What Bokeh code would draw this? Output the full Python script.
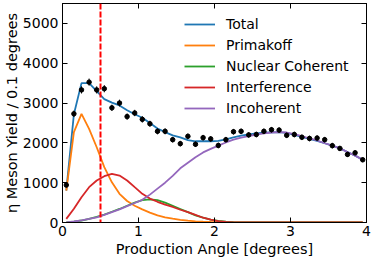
from bokeh.plotting import figure
from bokeh.models import Range1d, LinearAxis, Span, Legend, LegendItem, FixedTicker
from bokeh.embed import file_html
from bokeh.resources import INLINE

angle = [0.05, 0.15, 0.25, 0.35, 0.45, 0.55, 0.65, 0.75, 0.85, 0.95,
         1.05, 1.15, 1.25, 1.35, 1.45, 1.55, 1.65, 1.75, 1.85, 1.95,
         2.05, 2.15, 2.25, 2.35, 2.45, 2.55, 2.65, 2.75, 2.85, 2.95,
         3.05, 3.15, 3.25, 3.35, 3.45, 3.55, 3.65, 3.75, 3.85, 3.95]

data_yield = [940, 2730, 3330, 3525, 3330, 3360, 2880, 3000, 2660, 2750,
              2590, 2480, 2290, 2290, 2080, 1980, 2165, 1965, 2130, 2100,
              1935, 2080, 2280, 2290, 2200, 2210, 2290, 2330, 2320, 2190,
              2210, 2140, 2110, 2120, 2080, 1930, 1860, 1710, 1750, 1575]
data_err = [60, 80, 90, 90, 90, 90, 80, 85, 80, 80,
            80, 75, 75, 75, 70, 70, 70, 70, 70, 70,
            70, 70, 70, 70, 70, 70, 70, 70, 70, 70,
            70, 70, 70, 70, 70, 70, 65, 65, 65, 60]

total = [800, 2720, 3500, 3500, 3300, 3100, 3010, 2940, 2820, 2720,
         2630, 2500, 2360, 2270, 2190, 2140, 2070, 2040, 2040, 2040,
         2050, 2090, 2140, 2180, 2210, 2240, 2255, 2265, 2270, 2250,
         2200, 2150, 2100, 2050, 1990, 1930, 1860, 1770, 1680, 1575]
primakoff = [800, 2270, 2730, 2350, 1890, 1390, 1010, 720, 540, 420,
             330, 250, 180, 130, 95, 65, 45, 30, 20, 12,
             8, 5, 3, 2, 1, 0, 0, 0, 0, 0,
             0, 0, 0, 0, 0, 0, 0, 0, 0, 0]
nuclear = [5, 20, 50, 90, 140, 200, 270, 340, 420, 500,
           560, 580, 560, 500, 420, 340, 260, 180, 120, 70,
           40, 20, 10, 5, 2, 0, 0, 0, 0, 0,
           0, 0, 0, 0, 0, 0, 0, 0, 0, 0]
interference = [92, 344, 636, 887, 1055, 1163, 1223, 1180, 1055, 887,
                720, 600, 520, 450, 390, 320, 260, 190, 120, 70,
                35, 15, 5, 2, 0, 0, 0, 0, 0, 0,
                0, 0, 0, 0, 0, 0, 0, 0, 0, 0]
incoherent = [5, 25, 55, 90, 130, 190, 260, 330, 410, 490,
              570, 700, 850, 1000, 1170, 1360, 1500, 1640, 1760, 1850,
              1930, 2010, 2080, 2130, 2170, 2210, 2240, 2260, 2270, 2260,
              2220, 2170, 2110, 2060, 1990, 1930, 1860, 1770, 1680, 1580]

cut_angle = 0.5
x_ticks = [0, 1, 2, 3, 4]
y_ticks = [0, 1000, 2000, 3000, 4000, 5000]

FONT = "DejaVu Sans"

p = figure(width=374, height=262, output_backend="svg", toolbar_location=None,
           x_range=Range1d(0, 4), y_range=Range1d(0, 5500),
           min_border_left=62, min_border_right=8, min_border_top=3, min_border_bottom=40,
           x_axis_label="Production Angle [degrees]",
           y_axis_label="η Meson Yield / 0.1 degrees")
p.grid.visible = False
p.background_fill_color = "white"
p.border_fill_color = "white"
p.outline_line_color = "black"
p.outline_line_width = 1

p.add_layout(LinearAxis(axis_label=None), "above")
p.add_layout(LinearAxis(axis_label=None), "right")

for ax in p.axis:
    ax.axis_line_color = "black"
    ax.major_tick_line_color = "black"
    ax.major_tick_in = 5
    ax.major_tick_out = 0
    ax.minor_tick_line_color = None
    ax.major_label_text_font = FONT
    ax.major_label_text_font_size = "14px"
    ax.major_label_text_color = "black"
    ax.axis_label_text_font = FONT
    ax.axis_label_text_font_size = "14.5px"
    ax.axis_label_text_font_style = "normal"
    ax.axis_label_text_color = "black"

p.xaxis.ticker = FixedTicker(ticks=x_ticks)
p.yaxis.ticker = FixedTicker(ticks=y_ticks)
p.below[0].major_label_standoff = 3
p.below[0].axis_label_standoff = 2
p.left[0].major_label_standoff = 4
p.left[0].axis_label_standoff = 0
for ax in (p.above[0], p.right[0]):
    ax.major_label_text_font_size = "1px"
    ax.major_label_text_color = None
    ax.major_label_standoff = 0
    ax.axis_label_standoff = 0

colors = ["#1f77b4", "#ff7f0e", "#2ca02c", "#d62728", "#9467bd"]
names = ["Total", "Primakoff", "Nuclear Coherent", "Interference", "Incoherent"]
series = [total, primakoff, nuclear, interference, incoherent]

items = []
for name, col, ys in zip(names, colors, series):
    r = p.line(angle, ys, line_color=col, line_width=1.8)
    items.append(LegendItem(label=name, renderers=[r]))

lo = [v - e for v, e in zip(data_yield, data_err)]
hi = [v + e for v, e in zip(data_yield, data_err)]
p.segment(x0=angle, y0=lo, x1=angle, y1=hi, line_color="black", line_width=1)
p.scatter(angle, data_yield, size=4.5, fill_color="black", line_color="black")

p.add_layout(Span(location=cut_angle, dimension="height", line_color="red",
                  line_dash="6 2", line_width=2))

legend = Legend(items=items, location=(122, 105), border_line_color=None,
                background_fill_alpha=0, padding=0, margin=0, spacing=3,
                glyph_width=31, glyph_height=18, label_standoff=11,
                label_text_font=FONT, label_text_font_size="14px",
                label_text_color="black", label_height=18)
p.add_layout(legend, "center")

open("out.html", "w").write(file_html(p, INLINE))
